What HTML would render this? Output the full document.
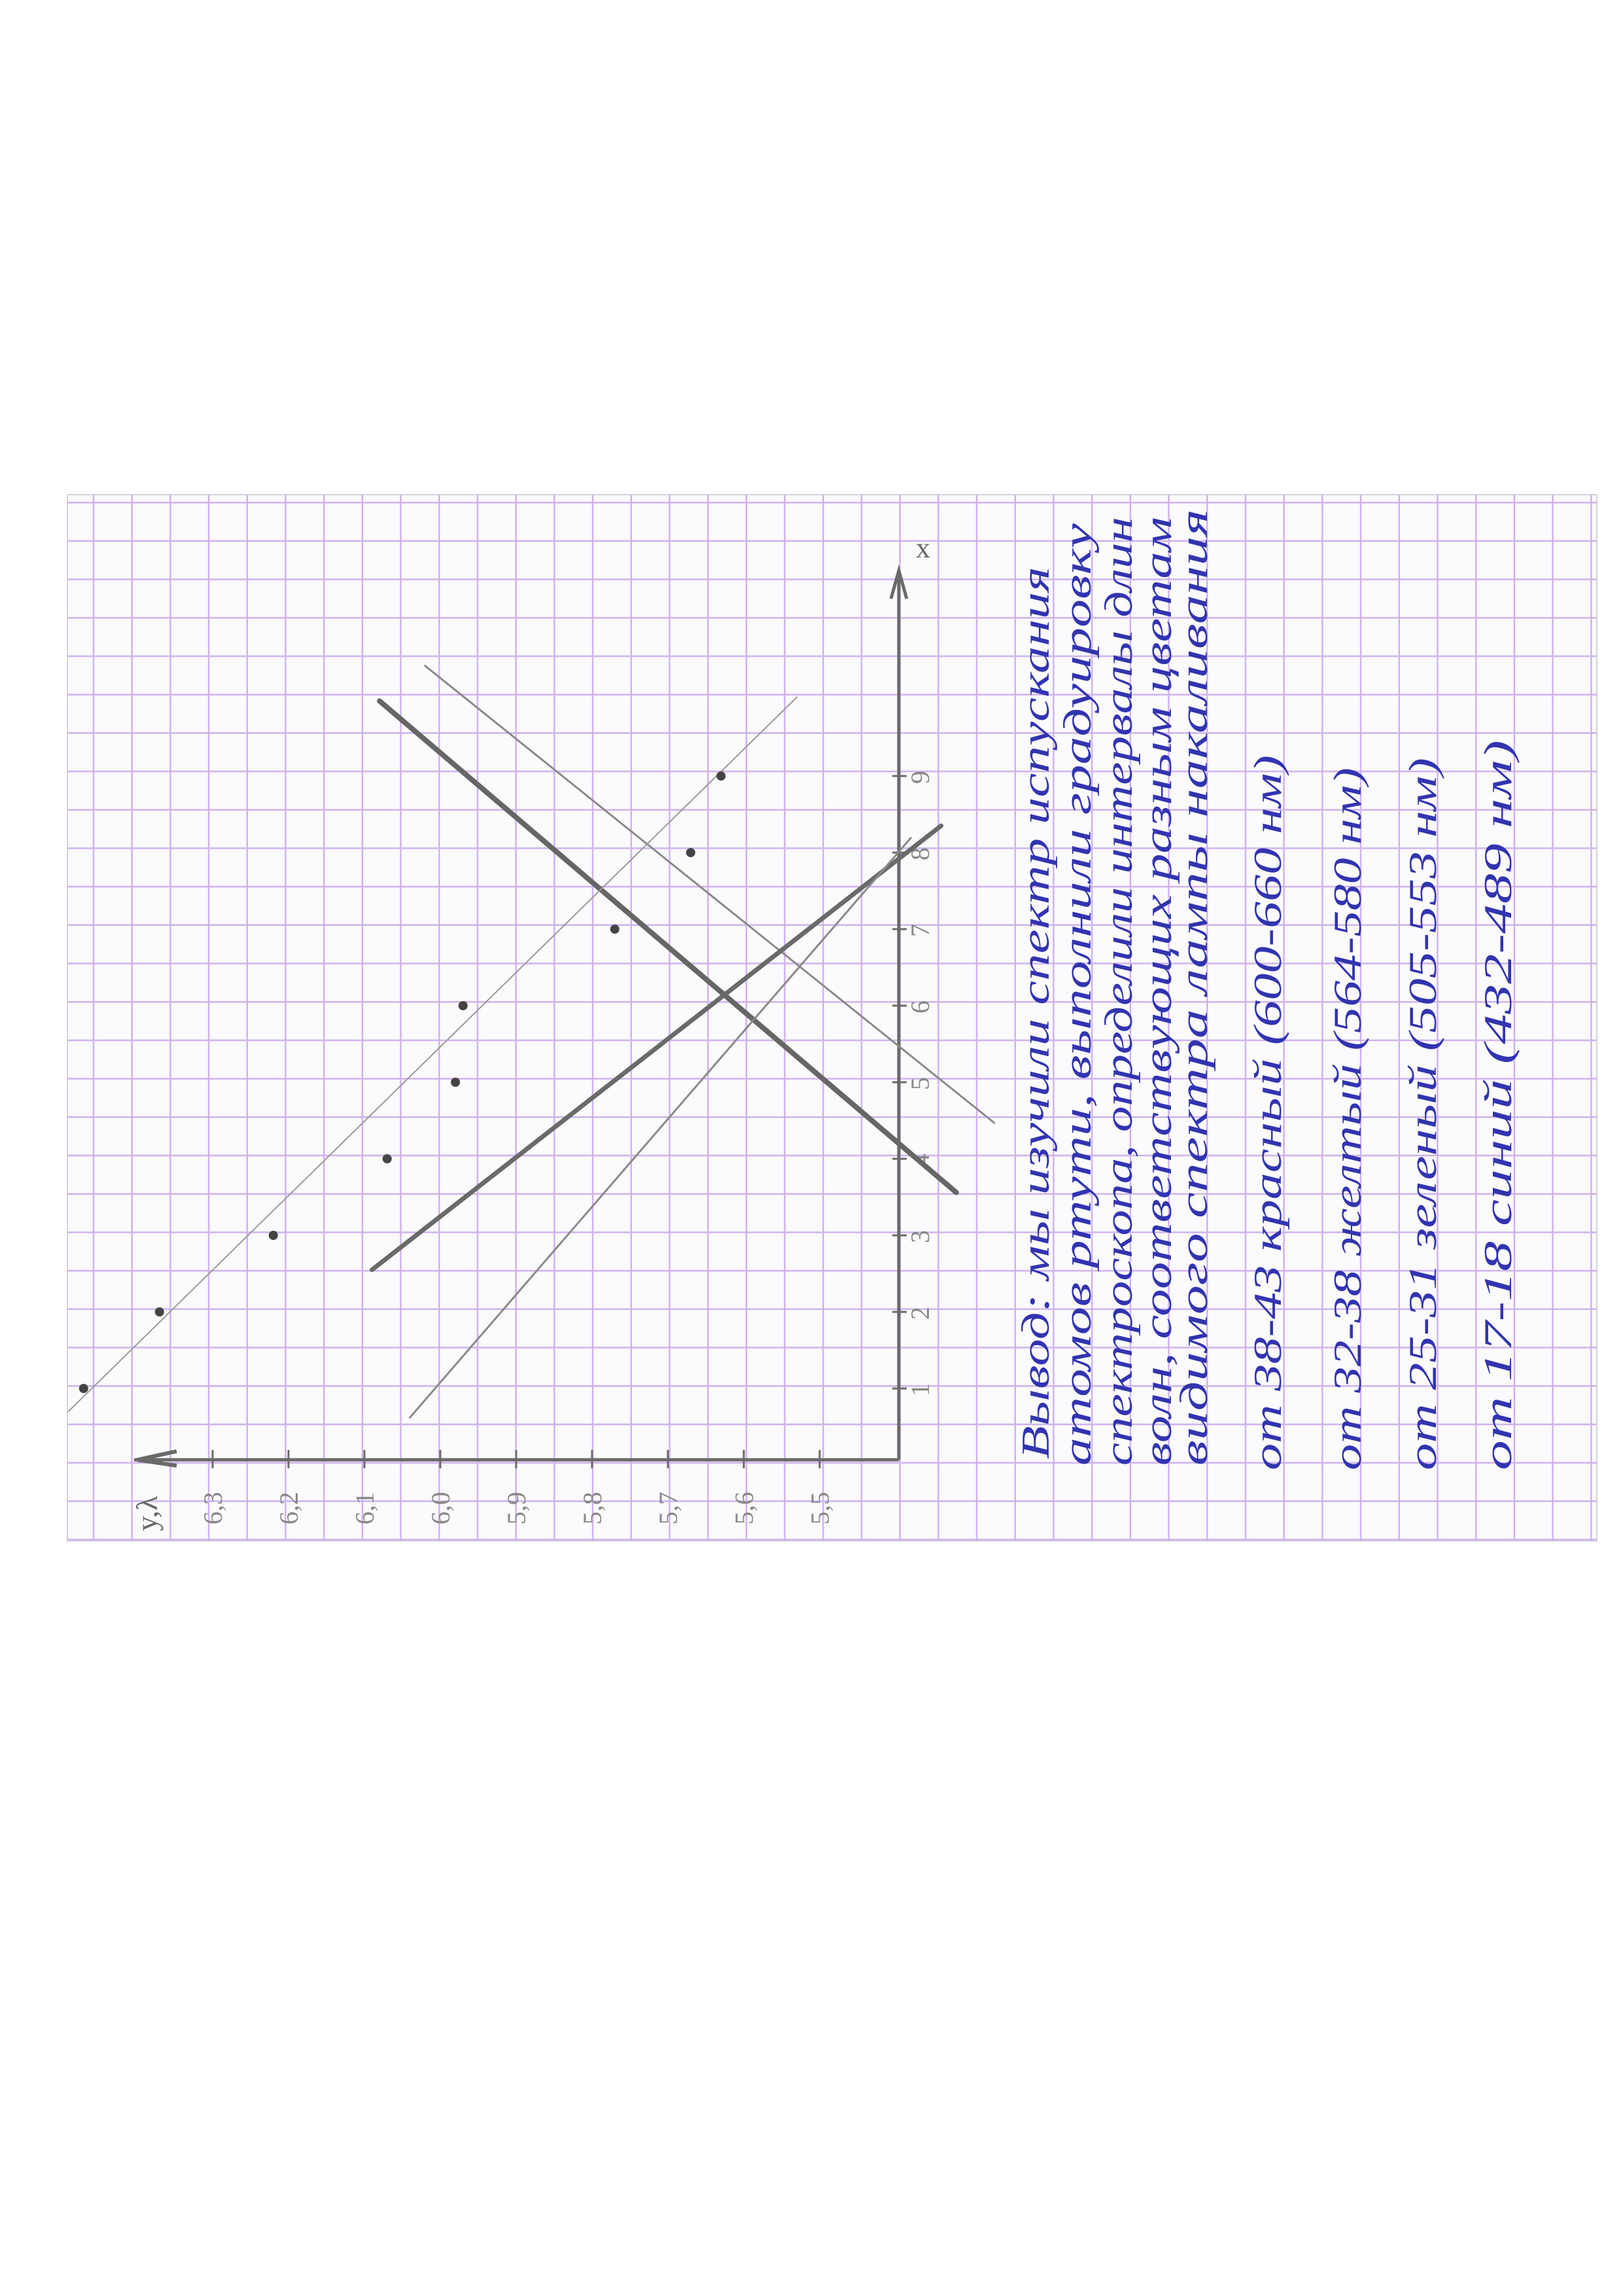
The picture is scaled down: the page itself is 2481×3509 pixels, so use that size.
<!DOCTYPE html>
<html><head><meta charset="utf-8">
<style>html,body{margin:0;padding:0;background:#fff}svg{display:block}</style>
</head><body>
<svg id="chart" width="2481" height="3509" viewBox="0 0 2481 3509" xmlns="http://www.w3.org/2000/svg" font-family="'Liberation Serif', serif">
<defs><clipPath id="paper"><rect x="103" y="756" width="2338" height="1599"/></clipPath></defs>
<rect width="2481" height="3509" fill="#ffffff"/>
<rect x="103" y="756" width="2338" height="1599" fill="#fbfafc" stroke="#d6d2dc" stroke-width="2"/>
<g id="grid" clip-path="url(#paper)" stroke="#cfb3ee" stroke-width="2.5"></g>
<g id="plot"></g>
<g id="notes" fill="#3234b0" font-style="italic" font-size="60"></g>
<script>
// data: x-axis (vertical, ticks 1..9) and y-axis (horizontal, λ values)
const xTicks=[1,2,3,4,5,6,7,8,9];
const yTicks=[6.3,6.2,6.1,6.0,5.9,5.8,5.7,5.6,5.5];
const yTickLabels=["6,3","6,2","6,1","6,0","5,9","5,8","5,7","5,6","5,5"];
const pointsX=[1,2,3,4,5,6,7,8,9];
const pointsY=[6.47,6.37,6.22,6.07,5.98,5.97,5.77,5.67,5.63];
const lineAX=[9.98,3.56], lineAY=[6.08,5.32];
const lineBX=[10.44,4.47], lineBY=[6.02,5.27];
const lineCX=[2.55,8.35], lineCY=[6.09,5.34];
const lineDX=[0.62,8.19], lineDY=[6.04,5.38];
const lineEX=[0.70,10.03], lineEY=[6.49,5.53];
const noteLines=["Вывод: мы изучили спектр испускания","атомов ртути, выполнили градуировку","спектроскопа, определили интервалы длин","волн, соответствующих разным цветам","видимого спектра лампы накаливания","от 38-43 красный (600-660 нм)","от 32-38 желтый (564-580 нм)","от 25-31 зеленый (505-553 нм)","от 17-18 синий (432-489 нм)"];

const NS="http://www.w3.org/2000/svg";
function sy(k){return 2239-117*k;}
function sx(v){return 1253-(v-5.5)*1160;}
function mk(tag,attrs,parent){const e=document.createElementNS(NS,tag);for(const a in attrs)e.setAttribute(a,attrs[a]);parent.appendChild(e);return e;}

const grid=document.getElementById('grid');
for(let x=84.3;x<2450;x+=58.7){const l=mk('line',{x1:x,y1:740,x2:x,y2:2370},grid);

}
for(let y=2353;y>740;y-=58.7){const l=mk('line',{x1:100,y1:y,x2:2450,y2:y},grid);

}

const plot=document.getElementById('plot');
const pen='#6a6a6a';
let ax=mk('line',{x1:1374,y1:2231,x2:1374,y2:880,stroke:pen,'stroke-width':5},plot);


let ar=mk('path',{d:'M1362,915 L1374,872 L1386,915',fill:'none',stroke:pen,'stroke-width':5},plot);


let xl=mk('text',{x:1400,y:852,fill:pen,'font-size':44},plot);xl.textContent='x';


let ay=mk('line',{x1:1374,y1:2231,x2:205,y2:2231,stroke:pen,'stroke-width':5},plot);


let ya=mk('path',{d:'M270,2218 L210,2231 L270,2240',fill:'none',stroke:pen,'stroke-width':6},plot);


let yt=mk('text',{x:0,y:0,fill:pen,'font-size':46,transform:'translate(240,2340) rotate(-90)'},plot);yt.textContent='y,λ';



xTicks.forEach(k=>{
 const t=mk('line',{x1:1364,y1:sy(k),x2:1386,y2:sy(k),stroke:pen,'stroke-width':3},plot);
 
 
 const tx=mk('text',{x:0,y:0,fill:'#888','font-size':40,transform:`translate(1420,${sy(k)+12}) rotate(-90)`},plot);tx.textContent=k;
 
 
});
yTicks.forEach((v,i)=>{
 const t=mk('line',{x1:sx(v),y1:2216,x2:sx(v),y2:2244,stroke:pen,'stroke-width':3},plot);
 
 
 const tx=mk('text',{x:0,y:0,fill:'#888','font-size':40,transform:`translate(${sx(v)+14},2330) rotate(-90)`},plot);tx.textContent=yTickLabels[i];
 
 
});
function seg(xs,ys,w,c,name){
 const l=mk('line',{x1:sx(ys[0]),y1:sy(xs[0]),x2:sx(ys[1]),y2:sy(xs[1]),stroke:c,'stroke-width':w,'stroke-linecap':'round'},plot);
 
 
}
seg(lineAX,lineAY,8,'#666','line-a-thick-falling');
seg(lineBX,lineBY,3,'#8a8a8a','line-b-thin-falling');
seg(lineCX,lineCY,7,'#6a6a6a','line-c-thick-rising');
seg(lineDX,lineDY,3,'#8a8a8a','line-d-thin-rising');
seg(lineEX,lineEY,2,'#9a9a9a','line-e-fit');
pointsX.forEach((k,i)=>{
 const c=mk('circle',{cx:sx(pointsY[i]),cy:sy(k),r:7,fill:'#444'},plot);
 
 
});

const notes=document.getElementById('notes');
const baseX=[1603,1667,1730,1790,1845,1958,2080,2195,2310];
const startY=[2230,2240,2240,2240,2240,2247,2247,2247,2247];
const endY=[866,800,790,790,778,1154,1173,1158,1131];
noteLines.forEach((s,i)=>{
 const t=mk('text',{x:0,y:0,transform:`translate(${baseX[i]},${startY[i]}) rotate(-90)`,textLength:startY[i]-endY[i],lengthAdjust:'spacingAndGlyphs'},notes);
 t.textContent=s;
 
 
});
</script>
</svg>
</body></html>
